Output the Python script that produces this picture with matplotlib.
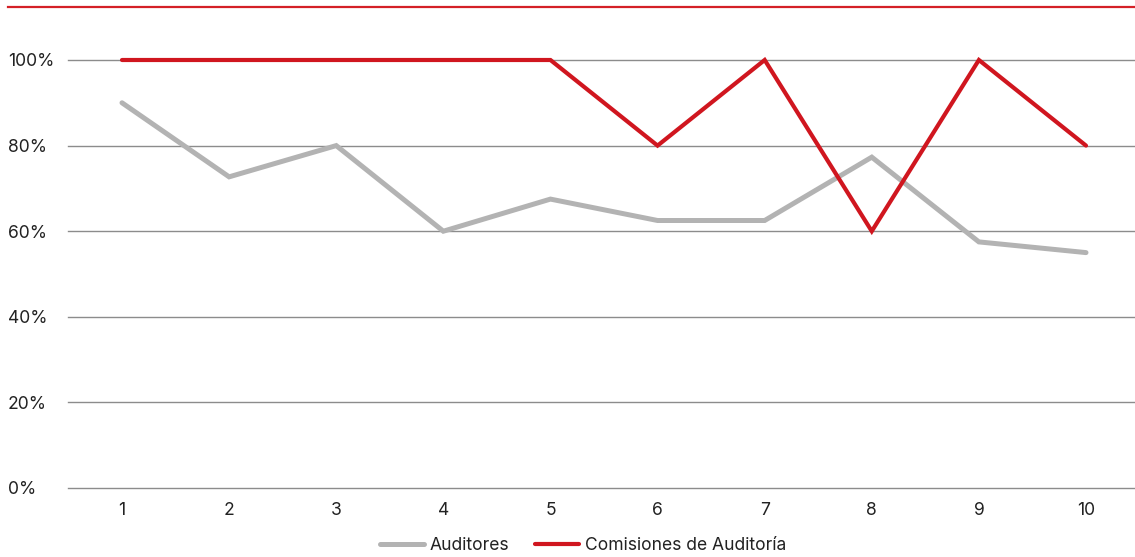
import matplotlib
matplotlib.use("Agg")
import matplotlib.pyplot as plt
from matplotlib.lines import Line2D

plt.rcParams['font.family'] = ['Inter', 'DejaVu Sans']

categories = ['1', '2', '3', '4', '5', '6', '7', '8', '9', '10']
auditores = [0.90, 0.727, 0.80, 0.60, 0.675, 0.625, 0.625, 0.773, 0.575, 0.55]
comisiones = [1.00, 1.00, 1.00, 1.00, 1.00, 0.80, 1.00, 0.60, 1.00, 0.80]
yticks = [0, 0.2, 0.4, 0.6, 0.8, 1.0]
ytick_labels = ['0%', '20%', '40%', '60%', '80%', '100%']

W, H = 1135, 557
fs = 12.6
fig = plt.figure(figsize=(W / 100, H / 100), dpi=100)
ax = fig.add_axes([68 / W, (H - 488) / H, (1135 - 68) / W, (488 - 60) / H])

x = list(range(1, len(categories) + 1))
gray = '#b3b3b3'
red = '#d0161f'
ax.plot(x, auditores, color=gray, lw=3.6, solid_capstyle='round', solid_joinstyle='miter',
        label='Auditores', clip_on=False, zorder=3)
ax.plot(x, comisiones, color=red, lw=3.0, solid_capstyle='round', solid_joinstyle='miter',
        label='Comisiones de Auditoría', clip_on=False, zorder=4)

ax.set_xlim(1 - 54 / 107.1, 10 + 49 / 107.1)
ax.set_ylim(0, 1.0)
ax.set_yticks(yticks)
ax.set_yticklabels(ytick_labels)
ax.set_xticks(x)
ax.set_xticklabels(categories)
ax.grid(axis='y', color='#8c8c8c', lw=1.0)
for gl in ax.get_ygridlines():
    gl.set_clip_on(False)
ax.set_axisbelow(True)
for s in ax.spines.values():
    s.set_visible(False)
ax.tick_params(axis='both', length=0, labelsize=fs, colors='#222222')
ax.tick_params(axis='y', pad=(68 - 8) * 0.72)
ax.tick_params(axis='x', pad=10)
for lab in ax.get_yticklabels():
    lab.set_horizontalalignment('left')

# top decorative red rule
fig.add_artist(Line2D([8 / W, 1.0], [1 - 7 / H, 1 - 7 / H], color='#d42027', lw=1.6,
                      transform=fig.transFigure))

leg = fig.legend(loc='center', bbox_to_anchor=(583 / W, 1 - 546 / H), ncol=2, frameon=False,
                 fontsize=fs, handlelength=2.5, handletextpad=0.35, columnspacing=1.45)
for t in leg.get_texts():
    t.set_color('#222222')

fig.savefig('out.png', dpi=100)
